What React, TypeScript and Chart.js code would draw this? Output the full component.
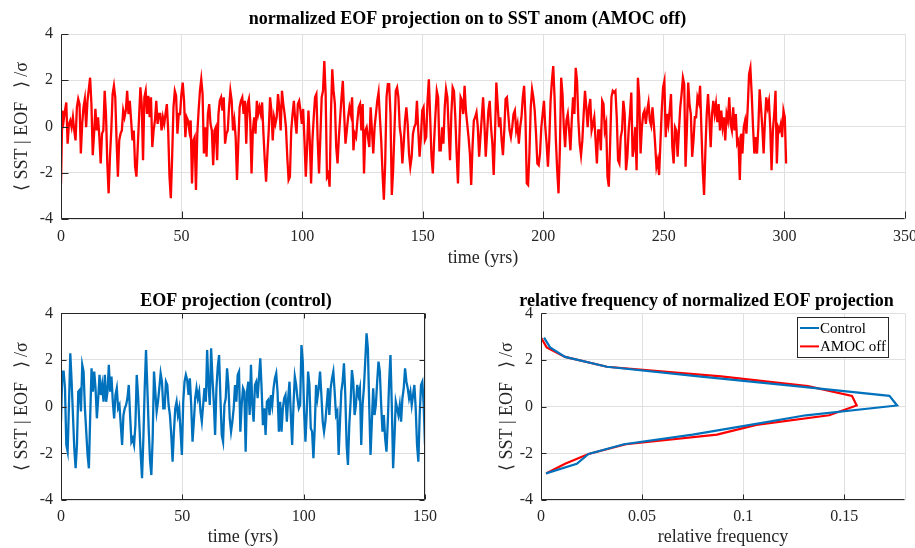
import React, { useEffect, useRef } from 'react';
import { Chart, registerables } from 'chart.js';

Chart.register(...registerables);

const FONT = '"Liberation Serif", "Times New Roman", Times, serif';
const Y_LABEL = '⟨ SST | EOF   ⟩ /σ';

const TOP_TITLE = 'normalized EOF projection on to SST anom (AMOC off)';
const LEFT_TITLE = 'EOF projection (control)';
const RIGHT_TITLE = 'relative frequency of normalized EOF projection';
const TIME_LABEL = 'time (yrs)';
const FREQ_LABEL = 'relative frequency';

const AMOC_END_YEAR = 300.7;
const CONTROL_END_YEAR = 150;

// normalized EOF projection, AMOC off (~0.55 yr spacing)
const amocOffSST: number[] = [
  -2.46, 0.69, 0.26, 0.69, 1.04, -0.74, 0.11, 0.26, -0.03, 0.40, -0.17, -0.60, 0.83, 1.19, 0.97, -1.17, 0.11, 0.83, 1.19, -0.03,
  1.11, 1.61, 2.11, 0.97, -1.24, -0.31, 0.76, -0.17, 0.40, -0.46, -1.60, -0.31, -0.17, 1.54, 0.54, -1.60, -2.89, -1.31, -0.17, 1.40,
  1.76, 1.26, -0.60, -2.17, -0.60, -0.31, -0.17, 0.69, 0.40, 0.69, 1.54, 0.54, 1.11, 0.26, -0.60, -0.17, -1.74, -2.17, -0.89, 0.40,
  1.69, 0.97, -1.46, 1.26, 1.54, 0.54, 1.33, 0.40, 1.26, -0.89, -0.17, 0.26, 1.11, 0.11, 0.54, 0.54, -0.17, 0.40, 0.11, 0.54,
  0.97, -0.17, -2.17, -3.10, -1.31, 0.83, 1.54, 1.33, -0.31, 0.54, 0.54, 1.40, 1.90, 1.11, -0.46, 0.40, 0.26, -0.17, 0.26, -2.46,
  -0.60, -0.46, -2.74, -0.31, 0.69, 1.54, 2.04, 1.40, -1.17, -0.03, -1.31, 0.54, 0.97, 0.11, -0.17, -1.67, -0.17, -0.03, -1.46, 0.54,
  1.11, 1.26, 0.69, 1.26, -0.74, -0.31, -0.17, 0.83, 1.54, 1.11, -0.17, 0.26, -0.46, -2.31, -0.74, 0.83, 1.11, 1.26, 0.54, 1.11,
  -0.74, 0.97,
  1.19, 0.26, -2.03, -0.17, 0.40, -0.31, 1.11, 0.54, 0.83, 0.54, 1.04, -0.31, -1.46, -2.39, -1.17, -0.17, 1.26, 0.69, -0.60, 0.40,
  0.11, 0.40, 1.40, 0.83, -0.17, 1.54, 0.97, 0.54, -0.03, -1.31, -2.31, -2.17, -0.17, 0.54, 1.11, 0.26, -0.31, 0.97, 1.11, 0.69,
  0.11, 0.76, -0.60, -2.17, -0.89, 0.69, -0.60, -2.46, -0.60, 0.40, 1.26, 1.40, -0.60, -2.03, -0.46, 1.26, 1.54, 2.83, 1.40, -2.17,
  -2.03, -2.60, 0.54, 2.47, 1.54, 0.97, -0.89, -1.60, -0.46, 0.40, 1.26, 1.97, 0.54, -0.74, -0.17, 0.40, 0.83, 0.54, 1.26, -1.03,
  -0.31, -0.46, 0.26, 0.83, 0.97, -0.17, 0.97, -2.03, -0.17, -0.03, -0.46, -0.89, 0.83, -0.17, -1.17, -0.03, 0.54, 1.11, 1.47, 0.40,
  -0.60, -2.03, -3.17, -1.60, 1.26, 1.83, 1.83, 0.54, -2.96, -1.89, -0.17, 1.54, 1.69, 1.26, -0.03, -0.46, -1.60, -0.74, 0.26, 0.83,
  0.11, -1.17, -1.74, -1.31, -0.31, -0.03, 0.11, 1.11, -0.17, -1.31, -0.46, 0.69, 0.83, -0.60, -0.46,
  1.11, 2.04, 0.40, -1.31, -2.03, -0.60, 0.54, 1.54, 1.26, -1.03, -1.03, -0.03, -0.74, 0.83, 1.61, 1.26, -0.17, -1.46, 0.54, 1.69,
  1.54, 0.40, -1.17, -2.46, -0.60, 1.26, 1.11, 0.54, 1.76, 0.69, 0.11, -0.46, -1.17, -2.53, -0.89, 0.26, 0.40, 0.61, -0.03, -1.31,
  -0.46, 0.40, 1.26, 0.11, -1.31, -0.31, 0.69, 1.11, -0.03, -0.74, -2.10, -0.31, 1.90, 0.97, -0.03, 0.40, -0.60, -1.24, -0.17, 1.19,
  1.26, 0.54, -0.17, -0.46, -0.03, 0.54, 0.69, -0.17, 0.11, -0.74, -0.03, 0.40, 1.26, 1.76, 0.40, -2.46, -2.53, -1.17, 0.83, 1.61,
  1.26, 0.69, -0.31, -1.60, -1.67, -1.17, -0.03, 0.54, 1.11, -0.03, -0.74, -1.74, -0.60, 1.11, 1.97, 2.61, 1.26, -0.60, -1.89, -2.89,
  -1.03, 2.11, 1.40, -0.03, -0.89, 0.26, 0.54, -0.17, -1.03, 0.26, 1.26, 0.54, 2.54, 1.97, 0.26, -0.74, -1.24, -0.60, 0.54, 1.54,
  0.83, -0.03, 0.83, 1.19, -0.17, 0.11, 0.40, -0.60, -1.60, -0.17, -0.17, -1.03, 1.11, 0.97, -0.17, 0.11,
  -2.17, -2.60, -0.74, 1.26, 1.54, 1.47, 1.54, 0.40, -1.46, -1.60, -0.46, -0.17, 1.11, 0.54, -1.89, -1.31, -0.17, 0.54, 1.47, -1.31,
  -0.89, -0.03, -1.89, 2.11, 1.26, -1.17, -0.03, 0.54, 0.69, 0.11, 0.69, 1.04, 0.26, 0.04, 0.83, 0.11, -0.74, -1.74, -1.46, -2.10,
  -0.74, 0.69, 1.69, 1.97, -0.46, 0.54, 0.11, 0.69, 1.40, -0.89, -1.60, -0.03, -0.17, -1.31, -0.17, 0.83, 1.40, 2.11, 1.83, -1.74,
  -0.17, 1.90, 0.97, 0.54, -1.31, -0.60, 0.40, 0.40, 1.26, 1.04, 1.76, -0.17, -1.89, -2.96, -1.03, 0.54, 1.40, 0.40, -0.89, 0.54,
  1.11, 0.54, 0.97, 0.19, 0.97, -0.17, 0.69, -0.03, 0.40, -0.60, 0.54, 0.26, 1.26, 0.11, -0.17, 0.83, -0.17, 0.54, -0.74, -0.60,
  -2.31, -0.31, -1.17, -0.03, 0.26, -0.31, 0.83, 2.26, 2.54, 1.40, -0.03, -1.17, -0.46, -1.17, -0.03, 1.61, 0.83, -0.03, -1.17, 0.26,
  1.26, 0.83, 1.11, -0.03, -1.89, -0.17, 0.54, 1.54, -1.60, -0.03, -0.17, 0.11, -0.46, 0.69, 0.40, -1.60,
];

// EOF projection, control run (~0.55 yr spacing)
const controlSST: number[] = [
  -0.64, 1.50, 1.50, 0.79, -1.64, -1.93, 0.07, 2.29, 1.07, -0.36, -1.79, -2.64, -1.64, 0.64, 0.71, -0.21, 1.79, 1.50, -0.07, -1.07,
  -2.07, -2.64, -0.36, 1.64, 0.64, 1.50, 0.79, -0.50, 0.36, 1.36, 0.50, 0.93, 0.21, 1.36, 0.21, 0.64, 1.79, 0.64, 1.29, 0.21,
  -0.50, 0.50, 0.79, -0.07, 0.07, -0.79, -1.64, -0.36, -0.07, 0.07, 0.36, 0.93, -0.36, -1.50, -1.36, -1.64, -0.79, 1.36, 0.50, -0.79,
  -2.07, -3.07, -1.36, 0.79, 2.43, 0.79, -0.93, -2.29, -2.93, -1.36, 1.50, 0.64, -0.21, 0.21, 0.79, 1.43, 1.07, -0.07, -0.07, 1.07,
  0.93, 0.07, -0.36, -1.21, -2.36, -1.07, -0.07, 0.21, -0.36, -0.07, -1.07, -2.07, 0.21, 1.07, 1.36, 1.14, 0.50, 1.21, 0.07, -1.50,
  -0.64, 0.36, 0.79, 0.36, 0.64, -0.21, -0.64, 0.07, 0.79, 0.21, 2.43, 0.93, 0.07, 2.50, 1.21, 0.21, -1.21, 0.79, 1.71, 2.21,
  0.36, -1.21, -1.50, 0.07, 0.36, 1.64, 0.93, -0.50, -1.07, -0.64, -0.07, 0.93, 0.21, 1.36, 1.50, -1.07, 0.07, 0.79, 0.64, -1.93,
  0.64, 1.07, -0.36, 1.79, 0.07, -0.64, 0.93, 1.07, 0.36, 1.21, 2.07, 0.79, -0.79, -0.07, -1.21, 0.21, 0.29, -0.36, 0.50, 0.07,
  0.79, 1.21, 1.43, 0.64, -1.07, 0.21, -1.07, -0.07, 0.36, 0.50, -0.64, 0.36, 1.07, -0.36, -1.64, 0.07, 1.29, 0.93, 0.36, -0.07,
  0.07, 2.64, 1.93, -0.21, -1.50, -0.21, 1.50, 0.93, -0.93, -1.07, -2.21, -0.93, 0.93, 0.36, 0.79, 1.50, 0.50, -0.64, -1.07, -0.64,
  0.07, 0.79, -0.36, 0.79, 1.21, 1.50, 0.64, -0.36, -0.21, -2.07, -0.64, 0.64, 1.07, 1.86, 0.50, -1.64, -2.50, -0.79, 0.21, 1.57,
  1.07, -0.36, 0.07, 0.93, 0.50, 0.79, -1.64, 0.07, 0.79, 1.93, 3.14, 2.50, 0.07, -2.07, -0.64, 0.79, -0.36, 0.07, 1.07, 1.93,
  1.50, 0.07, -1.07, -0.36, -1.36, -1.93, -0.64, 1.07, 2.21, 0.07, -2.64, -1.36, 0.21, -0.07, -0.36, 0.07, -0.64, 0.36, 0.79, 1.64,
  1.07, 0.79, 0.36, 0.64, 0.07, 0.50, 0.93, -0.07, -1.64, -2.36, -0.36, 0.93, 1.07, 0.07, -1.64,
];

// histogram of the normalized projection
const binCenters: number[] = [2.96, 2.54, 2.13, 1.71, 1.30, 0.88, 0.46, 0.05, -0.37, -0.78, -1.20, -1.61, -2.03, -2.45, -2.86];
const controlFreq: number[] = [0.0015, 0.0045, 0.0119, 0.0326, 0.078, 0.126, 0.1723, 0.1761, 0.131, 0.1035, 0.075, 0.041, 0.0235, 0.0177, 0.0025];
const amocOffFreq: number[] = [0.0, 0.0028, 0.0119, 0.0326, 0.089, 0.132, 0.1538, 0.1561, 0.1425, 0.1065, 0.087, 0.042, 0.0235, 0.0119, 0.0025];

const RED = '#ff0000';
const BLUE = '#0072bd';
const AXIS = '#262626';
const GRID = '#e0e0e0';

const matlabAxes = {
  id: 'matlabAxes',
  afterDraw(chart: any, _args: any, opts: any) {
    const { ctx, chartArea: a, scales } = chart;
    const xs = scales.x;
    const ys = scales.y;
    const L = opts.tickLen || 5;
    ctx.save();
    ctx.strokeStyle = AXIS;
    ctx.lineWidth = 1;
    ctx.beginPath();
    const lx = Math.round(a.left) + 0.5;
    const by = Math.round(a.bottom) - 0.5;
    const rx = Math.round(a.right) - 0.5;
    const ty = Math.round(a.top) + 0.5;
    ctx.moveTo(lx, ty);
    ctx.lineTo(lx, by);
    ctx.lineTo(rx, by);
    if (opts.box) {
      ctx.lineTo(rx, ty);
      ctx.lineTo(lx, ty);
    }
    xs.ticks.forEach((t: any) => {
      if (t.label === '') return;
      const px = Math.round(xs.getPixelForValue(t.value)) + 0.5;
      ctx.moveTo(px, by);
      ctx.lineTo(px, by - L);
      if (opts.box) {
        ctx.moveTo(px, ty);
        ctx.lineTo(px, ty + L);
      }
    });
    ys.ticks.forEach((t: any) => {
      const py = Math.round(ys.getPixelForValue(t.value)) + 0.5;
      ctx.moveTo(lx, py);
      ctx.lineTo(lx + L, py);
      if (opts.box) {
        ctx.moveTo(rx, py);
        ctx.lineTo(rx - L, py);
      }
    });
    ctx.stroke();
    ctx.restore();
  },
};

const boxLegend = {
  id: 'boxLegend',
  afterDraw(chart: any, _args: any, opts: any) {
    if (!opts || !opts.display) return;
    const { ctx, chartArea: a } = chart;
    const sets = chart.data.datasets;
    ctx.save();
    ctx.font = `15px ${FONT}`;
    const lineLen = 19;
    const gap = 1;
    const padL = 3;
    const padR = 2;
    const rowH = 18.4;
    const textW = Math.max(...sets.map((d: any) => ctx.measureText(d.label).width));
    const w = padL + lineLen + gap + textW + padR;
    const h = rowH * sets.length + 3;
    const right = a.right - opts.offsetRight;
    const top = a.top + opts.offsetTop;
    const left = right - w;
    ctx.fillStyle = '#ffffff';
    ctx.fillRect(left, top, w, h);
    ctx.strokeStyle = AXIS;
    ctx.lineWidth = 1;
    ctx.strokeRect(Math.round(left) + 0.5, Math.round(top) + 0.5, Math.round(w), Math.round(h));
    sets.forEach((d: any, i: number) => {
      const cy = top + 1.5 + rowH * (i + 0.5);
      ctx.strokeStyle = d.borderColor;
      ctx.lineWidth = 2;
      ctx.beginPath();
      ctx.moveTo(left + padL, cy);
      ctx.lineTo(left + padL + lineLen, cy);
      ctx.stroke();
      ctx.fillStyle = '#000000';
      ctx.textBaseline = 'middle';
      ctx.textAlign = 'left';
      ctx.fillText(d.label, left + padL + lineLen + gap, cy + 1);
    });
    ctx.restore();
  },
};

function baseScales(o: {
  xMin: number; xMax: number; xStep: number; xTitle: string; xHeight: number; xTickPad: number; xTitlePadBottom: number;
  yWidth: number; yTitlePadTop: number; rightWidth: number; xCallback?: (v: number) => string;
}) {
  return {
    x: {
      type: 'linear',
      min: o.xMin,
      max: o.xMax,
      ticks: {
        stepSize: o.xStep,
        color: AXIS,
        padding: o.xTickPad,
        maxRotation: 0,
        autoSkip: false,
        font: { family: FONT, size: 16 },
        ...(o.xCallback ? { callback: o.xCallback } : {}),
      },
      grid: { color: GRID, drawTicks: false, lineWidth: 1 },
      border: { display: false },
      title: {
        display: true,
        text: o.xTitle,
        color: AXIS,
        font: { family: FONT, size: 18 },
        padding: { top: 0, bottom: o.xTitlePadBottom },
      },
      afterFit: (s: any) => {
        s.height = o.xHeight;
        s.paddingLeft = 0;
        s.paddingRight = 0;
      },
    },
    y: {
      type: 'linear',
      position: 'left',
      min: -4,
      max: 4,
      ticks: {
        stepSize: 2,
        color: AXIS,
        padding: 8,
        font: { family: FONT, size: 16 },
      },
      grid: { color: GRID, drawTicks: false, lineWidth: 1 },
      border: { display: false },
      title: {
        display: true,
        text: Y_LABEL,
        color: AXIS,
        font: { family: FONT, size: 18 },
        padding: { top: o.yTitlePadTop, bottom: 0 },
      },
      afterFit: (s: any) => {
        s.width = o.yWidth;
        s.paddingTop = 0;
        s.paddingBottom = 0;
      },
    },
    // empty spacer on the right so the plot box ends where the figure's does
    ySpace: {
      type: 'linear',
      position: 'right',
      display: true,
      min: -4,
      max: 4,
      ticks: { display: false },
      grid: { display: false, drawTicks: false },
      border: { display: false },
      afterFit: (s: any) => {
        s.width = o.rightWidth;
        s.paddingTop = 0;
        s.paddingBottom = 0;
      },
    },
  };
}

function titleOpts(text: string, top: number, bottom: number) {
  return {
    display: true,
    text,
    color: '#000000',
    font: { family: FONT, size: 18, weight: 'bold' },
    padding: { top, bottom },
  };
}

function useChart(make: () => any) {
  const ref = useRef<HTMLCanvasElement | null>(null);
  useEffect(() => {
    if (!ref.current) return;
    const chart = new Chart(ref.current, make());
    return () => chart.destroy();
  }, []);
  return ref;
}

export default function App() {
  useEffect(() => {
    document.body.style.margin = '0';
  }, []);

  const topRef = useChart(() => {
    const n = amocOffSST.length;
    const pts = amocOffSST.map((v, i) => ({ x: (i * AMOC_END_YEAR) / (n - 1), y: v }));
    return {
      type: 'line',
      data: {
        datasets: [
          { label: 'AMOC off', data: pts, borderColor: RED, backgroundColor: RED, borderWidth: 2.3, pointRadius: 0, tension: 0, fill: false },
        ],
      },
      options: {
        animation: false,
        responsive: false,
        events: [],
        layout: { padding: 0 },
        plugins: {
          legend: { display: false },
          tooltip: { enabled: false },
          title: titleOpts(TOP_TITLE, 8.2, 4.2),
          matlabAxes: { box: false, tickLen: 7 },
        },
        scales: baseScales({
          xMin: 0, xMax: 350, xStep: 50, xTitle: TIME_LABEL, xHeight: 56, xTickPad: 8.4, xTitlePadBottom: 5.5,
          yWidth: 61, yTitlePadTop: 11.2, rightWidth: 30,
        }),
      },
      plugins: [matlabAxes],
    };
  });

  const leftRef = useChart(() => {
    const n = controlSST.length;
    const pts = controlSST.map((v, i) => ({ x: (i * CONTROL_END_YEAR) / (n - 1), y: v }));
    return {
      type: 'line',
      data: {
        datasets: [
          { label: 'Control', data: pts, borderColor: BLUE, backgroundColor: BLUE, borderWidth: 2.3, pointRadius: 0, tension: 0, fill: false },
        ],
      },
      options: {
        animation: false,
        responsive: false,
        events: [],
        layout: { padding: 0 },
        plugins: {
          legend: { display: false },
          tooltip: { enabled: false },
          title: titleOpts(LEFT_TITLE, 15.2, 1.5),
          matlabAxes: { box: true, tickLen: 5 },
        },
        scales: baseScales({
          xMin: 0, xMax: 150, xStep: 50, xTitle: TIME_LABEL, xHeight: 48, xTickPad: 7, xTitlePadBottom: 0,
          yWidth: 61, yTitlePadTop: 11.2, rightWidth: 47,
        }),
      },
      plugins: [matlabAxes],
    };
  });

  const rightRef = useChart(() => {
    const ctrl = binCenters.map((b, i) => ({ x: controlFreq[i], y: b }));
    const off = binCenters.map((b, i) => ({ x: amocOffFreq[i], y: b }));
    return {
      type: 'line',
      data: {
        datasets: [
          { label: 'Control', data: ctrl, borderColor: BLUE, backgroundColor: BLUE, borderWidth: 2.2, pointRadius: 0, tension: 0, fill: false },
          { label: 'AMOC off', data: off, borderColor: RED, backgroundColor: RED, borderWidth: 2.2, pointRadius: 0, tension: 0, fill: false },
        ],
      },
      options: {
        animation: false,
        responsive: false,
        events: [],
        layout: { padding: 0 },
        plugins: {
          legend: { display: false },
          tooltip: { enabled: false },
          title: titleOpts(RIGHT_TITLE, 15.2, 1.5),
          matlabAxes: { box: false, tickLen: 5 },
          boxLegend: { display: true, offsetRight: 17, offsetTop: 4 },
        },
        scales: baseScales({
          xMin: 0, xMax: 0.18, xStep: 0.05, xTitle: FREQ_LABEL, xHeight: 48, xTickPad: 7, xTitlePadBottom: 0,
          yWidth: 61, yTitlePadTop: 16.2, rightWidth: 28,
          xCallback: (v: number) => {
            const k = v / 0.05;
            return Math.abs(k - Math.round(k)) < 1e-6 ? String(+v.toFixed(2)) : '';
          },
        }),
      },
      plugins: [matlabAxes, boxLegend],
    };
  });

  return (
    <div style={{ position: 'fixed', left: 0, top: 0, width: 915, height: 548, overflow: 'hidden', background: '#ffffff' }}>
      <canvas ref={topRef} width={935} height={275} style={{ position: 'absolute', left: 0, top: 0, width: 935, height: 275 }} />
      <canvas ref={leftRef} width={472} height={273} style={{ position: 'absolute', left: 0, top: 275, width: 472, height: 273 }} />
      <canvas ref={rightRef} width={453} height={273} style={{ position: 'absolute', left: 480, top: 275, width: 453, height: 273 }} />
    </div>
  );
}
